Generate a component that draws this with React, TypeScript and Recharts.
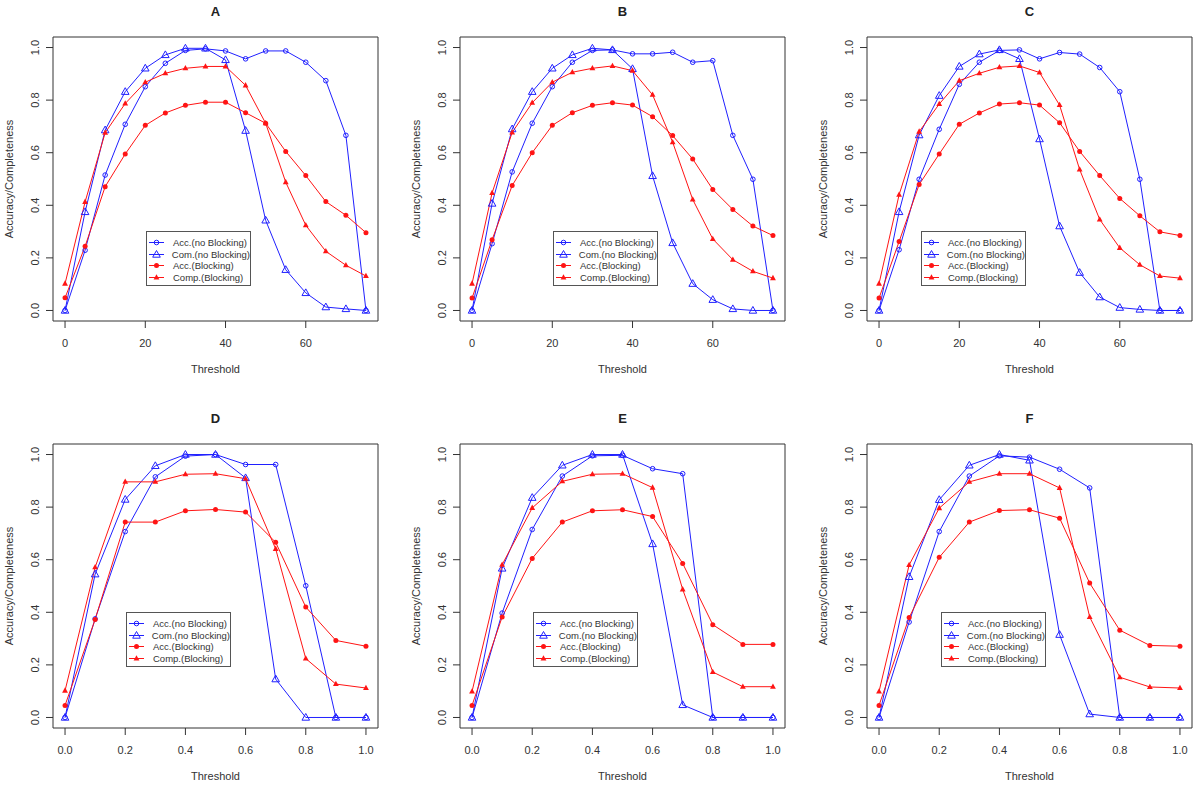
import React from "react";
import { LineChart, Line, XAxis, YAxis, ReferenceArea, Legend } from "recharts";

// thresholds / ticks
const THRESH_COUNT = [0, 5, 10, 15, 20, 25, 30, 35, 40, 45, 50, 55, 60, 65, 70, 75];
const THRESH_RATIO = [0, 0.1, 0.2, 0.3, 0.4, 0.5, 0.6, 0.7, 0.8, 0.9, 1.0];
const X_TICKS_COUNT = [0, 20, 40, 60];
const X_TICKS_RATIO = [0, 0.2, 0.4, 0.6, 0.8, 1.0];
const Y_TICKS = [0, 0.2, 0.4, 0.6, 0.8, 1.0];
const SERIES_NAMES = ["Acc.(no Blocking)", "Com.(no Blocking)", "Acc.(Blocking)", "Comp.(Blocking)"];
const TITLES = ["A", "B", "C", "D", "E", "F"];

// panel A
const A_ACC_NB = [0, 0.229, 0.515, 0.708, 0.851, 0.94, 0.989, 0.995, 0.987, 0.957, 0.987, 0.987, 0.944, 0.874, 0.666, 0];
const A_COM_NB = [0, 0.375, 0.686, 0.832, 0.921, 0.972, 0.997, 0.997, 0.953, 0.684, 0.343, 0.155, 0.067, 0.013, 0.006, 0];
const A_ACC_B = [0.048, 0.244, 0.471, 0.595, 0.704, 0.751, 0.78, 0.792, 0.792, 0.752, 0.712, 0.605, 0.513, 0.414, 0.362, 0.296];
const A_COMP_B = [0.102, 0.413, 0.676, 0.787, 0.868, 0.902, 0.921, 0.928, 0.928, 0.856, 0.712, 0.488, 0.324, 0.225, 0.172, 0.131];

// panel B
const B_ACC_NB = [0, 0.254, 0.527, 0.712, 0.851, 0.944, 0.989, 0.991, 0.976, 0.976, 0.982, 0.944, 0.95, 0.666, 0.499, 0];
const B_COM_NB = [0, 0.407, 0.69, 0.832, 0.921, 0.972, 0.997, 0.991, 0.919, 0.512, 0.257, 0.102, 0.041, 0.006, 0, 0];
const B_ACC_B = [0.047, 0.269, 0.475, 0.6, 0.704, 0.752, 0.78, 0.79, 0.781, 0.737, 0.665, 0.576, 0.46, 0.384, 0.321, 0.285];
const B_COMP_B = [0.102, 0.447, 0.677, 0.79, 0.868, 0.906, 0.921, 0.93, 0.912, 0.82, 0.64, 0.422, 0.272, 0.193, 0.149, 0.123];

// panel C
const C_ACC_NB = [0, 0.231, 0.499, 0.689, 0.86, 0.944, 0.989, 0.991, 0.957, 0.981, 0.975, 0.924, 0.832, 0.499, 0, 0];
const C_COM_NB = [0, 0.375, 0.667, 0.817, 0.928, 0.975, 0.991, 0.957, 0.652, 0.321, 0.144, 0.051, 0.011, 0.004, 0, 0];
const C_ACC_B = [0.047, 0.262, 0.479, 0.595, 0.708, 0.751, 0.785, 0.79, 0.781, 0.714, 0.605, 0.513, 0.426, 0.36, 0.299, 0.285];
const C_COMP_B = [0.102, 0.44, 0.68, 0.785, 0.874, 0.902, 0.925, 0.93, 0.905, 0.781, 0.536, 0.346, 0.238, 0.174, 0.131, 0.123];

// panel D
const D_ACC_NB = [0, 0.375, 0.707, 0.915, 0.994, 1.0, 0.962, 0.962, 0.501, 0, 0];
const D_COM_NB = [0, 0.545, 0.829, 0.957, 1.0, 1.0, 0.911, 0.146, 0, 0, 0];
const D_ACC_B = [0.046, 0.373, 0.743, 0.743, 0.786, 0.791, 0.781, 0.666, 0.42, 0.293, 0.271];
const D_COMP_B = [0.102, 0.571, 0.896, 0.896, 0.925, 0.927, 0.908, 0.641, 0.224, 0.127, 0.112];

// panel E
const E_ACC_NB = [0, 0.397, 0.715, 0.918, 0.995, 0.997, 0.946, 0.927, 0, 0, 0];
const E_COM_NB = [0, 0.567, 0.836, 0.959, 1.0, 1.0, 0.66, 0.048, 0, 0, 0];
const E_ACC_B = [0.046, 0.382, 0.605, 0.743, 0.786, 0.79, 0.764, 0.586, 0.353, 0.278, 0.278];
const E_COMP_B = [0.099, 0.581, 0.797, 0.898, 0.925, 0.927, 0.874, 0.487, 0.173, 0.117, 0.117];

// panel F
const F_ACC_NB = [0, 0.363, 0.707, 0.918, 0.995, 0.99, 0.944, 0.873, 0, 0, 0];
const F_COM_NB = [0, 0.535, 0.828, 0.959, 1.0, 0.978, 0.315, 0.013, 0, 0, 0];
const F_ACC_B = [0.046, 0.38, 0.609, 0.743, 0.787, 0.79, 0.758, 0.511, 0.332, 0.274, 0.271];
const F_COMP_B = [0.099, 0.58, 0.796, 0.896, 0.927, 0.927, 0.873, 0.382, 0.153, 0.116, 0.112];

const BLUE = "#2020ff";
const RED = "#ff1414";
const INK = "#333";
const FONT = '"Liberation Sans", Arial, Helvetica, sans-serif';

const CHART_W = 386;
const CHART_H = 380;
const MARGIN = { top: 37, right: 8, bottom: 9, left: 13 };

const openCircle = (cx: number, cy: number, key?: any) => (
  <circle key={key} cx={cx} cy={cy} r={2.3} fill="none" stroke={BLUE} strokeWidth={1} />
);
const openTriangle = (cx: number, cy: number, key?: any) => (
  <polygon
    key={key}
    points={`${cx},${cy - 4} ${cx - 3.8},${cy + 2.7} ${cx + 3.8},${cy + 2.7}`}
    fill="none"
    stroke={BLUE}
    strokeWidth={1}
  />
);
const solidCircle = (cx: number, cy: number, key?: any) => (
  <circle key={key} cx={cx} cy={cy} r={2.5} fill={RED} stroke="none" />
);
const solidTriangle = (cx: number, cy: number, key?: any) => (
  <polygon key={key} points={`${cx},${cy - 3.3} ${cx - 2.9},${cy + 2} ${cx + 2.9},${cy + 2}`} fill={RED} />
);

const SERIES = [
  { key: "accNb", color: BLUE, mark: openCircle },
  { key: "comNb", color: BLUE, mark: openTriangle },
  { key: "accB", color: RED, mark: solidCircle },
  { key: "compB", color: RED, mark: solidTriangle },
];

const PANELS = [
  { xs: THRESH_COUNT, ticks: X_TICKS_COUNT, series: [A_ACC_NB, A_COM_NB, A_ACC_B, A_COMP_B] },
  { xs: THRESH_COUNT, ticks: X_TICKS_COUNT, series: [B_ACC_NB, B_COM_NB, B_ACC_B, B_COMP_B] },
  { xs: THRESH_COUNT, ticks: X_TICKS_COUNT, series: [C_ACC_NB, C_COM_NB, C_ACC_B, C_COMP_B] },
  { xs: THRESH_RATIO, ticks: X_TICKS_RATIO, series: [D_ACC_NB, D_COM_NB, D_ACC_B, D_COMP_B] },
  { xs: THRESH_RATIO, ticks: X_TICKS_RATIO, series: [E_ACC_NB, E_COM_NB, E_ACC_B, E_COMP_B] },
  { xs: THRESH_RATIO, ticks: X_TICKS_RATIO, series: [F_ACC_NB, F_COM_NB, F_ACC_B, F_COMP_B] },
];

// where each chart sits on the page, and its legend box inside the chart
const LAYOUT = [
  { left: 0, top: 0, legendLeft: 146, legendTop: 231 },
  { left: 407, top: 0, legendLeft: 146, legendTop: 231 },
  { left: 814, top: 0, legendLeft: 107, legendTop: 231 },
  { left: 0, top: 407, legendLeft: 126, legendTop: 205 },
  { left: 407, top: 407, legendLeft: 126, legendTop: 205 },
  { left: 814, top: 407, legendLeft: 127, legendTop: 205 },
];

const LegendBox = () => (
  <div
    style={{
      width: 105,
      height: 55,
      boxSizing: "border-box",
      border: "1px solid #555",
      background: "#fff",
      paddingTop: 5,
      fontFamily: FONT,
    }}
  >
    {SERIES.map((s, i) => (
      <div key={s.key} style={{ display: "flex", alignItems: "center", height: 11.5 }}>
        <svg width={26} height={11} style={{ display: "block" }}>
          <line x1={2} x2={17} y1={5.5} y2={5.5} stroke={s.color} strokeWidth={1} />
          {s.mark(9.5, 5.5)}
        </svg>
        <span style={{ fontSize: 9.5, color: INK, whiteSpace: "nowrap", lineHeight: "11px" }}>
          {SERIES_NAMES[i]}
        </span>
      </div>
    ))}
  </div>
);

function Panel({ idx }: { idx: number }) {
  const p = PANELS[idx];
  const lay = LAYOUT[idx];
  const ratio = p.xs === THRESH_RATIO;
  const xMin = p.xs[0];
  const xMax = p.xs[p.xs.length - 1];
  const pad = (xMax - xMin) * 0.04;
  const data = p.xs.map((x, i) => {
    const row: any = { x };
    SERIES.forEach((s, j) => (row[s.key] = p.series[j][i]));
    return row;
  });

  const XTick = ({ x, y, payload }: any) => (
    <text x={x} y={y} textAnchor="middle" dominantBaseline="central" fontSize={11} fill={INK} fontFamily={FONT}>
      {ratio ? Number(payload.value).toFixed(1) : payload.value}
    </text>
  );
  const YTick = ({ x, y, payload }: any) => (
    <text
      x={x}
      y={y}
      transform={`rotate(-90 ${x} ${y})`}
      textAnchor="middle"
      dominantBaseline="central"
      fontSize={11}
      fill={INK}
      fontFamily={FONT}
    >
      {Number(payload.value).toFixed(1)}
    </text>
  );

  const plotW = CHART_W - MARGIN.left - 40 - MARGIN.right;

  return (
    <div style={{ position: "absolute", left: lay.left, top: lay.top, width: CHART_W, height: CHART_H }}>
      <div
        style={{
          position: "absolute",
          left: MARGIN.left + 40,
          top: 4,
          width: plotW,
          textAlign: "center",
          fontFamily: FONT,
          fontWeight: 700,
          fontSize: 13,
          color: "#222",
        }}
      >
        {TITLES[idx]}
      </div>
      <LineChart width={CHART_W} height={CHART_H} data={data} margin={MARGIN}>
        <XAxis
          dataKey="x"
          type="number"
          domain={[xMin - pad, xMax + pad]}
          allowDataOverflow
          ticks={p.ticks}
          interval={0}
          height={50}
          axisLine={false}
          tickLine={{ stroke: INK }}
          tickSize={7}
          tickMargin={15}
          tick={<XTick />}
          label={{
            value: "Threshold",
            position: "insideBottom",
            offset: -2,
            style: { fontSize: 11, fill: INK, fontFamily: FONT },
          }}
        />
        <YAxis
          type="number"
          domain={[-0.04, 1.04]}
          allowDataOverflow
          ticks={Y_TICKS}
          interval={0}
          width={40}
          axisLine={false}
          tickLine={{ stroke: INK }}
          tickSize={7}
          tickMargin={11}
          tick={<YTick />}
          label={{
            value: "Accuracy/Completeness",
            angle: -90,
            position: "insideLeft",
            offset: -3.5,
            style: { fontSize: 11, fill: INK, fontFamily: FONT, textAnchor: "middle" },
          }}
        />
        <ReferenceArea
          x1={xMin - pad}
          x2={xMax + pad}
          y1={-0.04}
          y2={1.04}
          fill="none"
          fillOpacity={0}
          stroke="#333"
          strokeWidth={1}
        />
        {SERIES.map((s) => (
          <Line
            key={s.key}
            type="linear"
            dataKey={s.key}
            stroke={s.color}
            strokeWidth={1}
            dot={(d: any) => s.mark(d.cx, d.cy, d.key ?? `${s.key}-${d.index}`)}
            activeDot={false}
            isAnimationActive={false}
          />
        ))}
        <Legend
          layout="vertical"
          align="center"
          verticalAlign="middle"
          width={105}
          height={55}
          wrapperStyle={{ left: lay.legendLeft, top: lay.legendTop, width: 105, height: 55 }}
          content={() => <LegendBox />}
        />
      </LineChart>
    </div>
  );
}

export default function App() {
  return (
    <div
      style={{
        position: "absolute",
        left: 0,
        top: 0,
        width: 1200,
        height: 787,
        background: "#fff",
        overflow: "hidden",
      }}
    >
      {PANELS.map((_, i) => (
        <Panel key={i} idx={i} />
      ))}
    </div>
  );
}
